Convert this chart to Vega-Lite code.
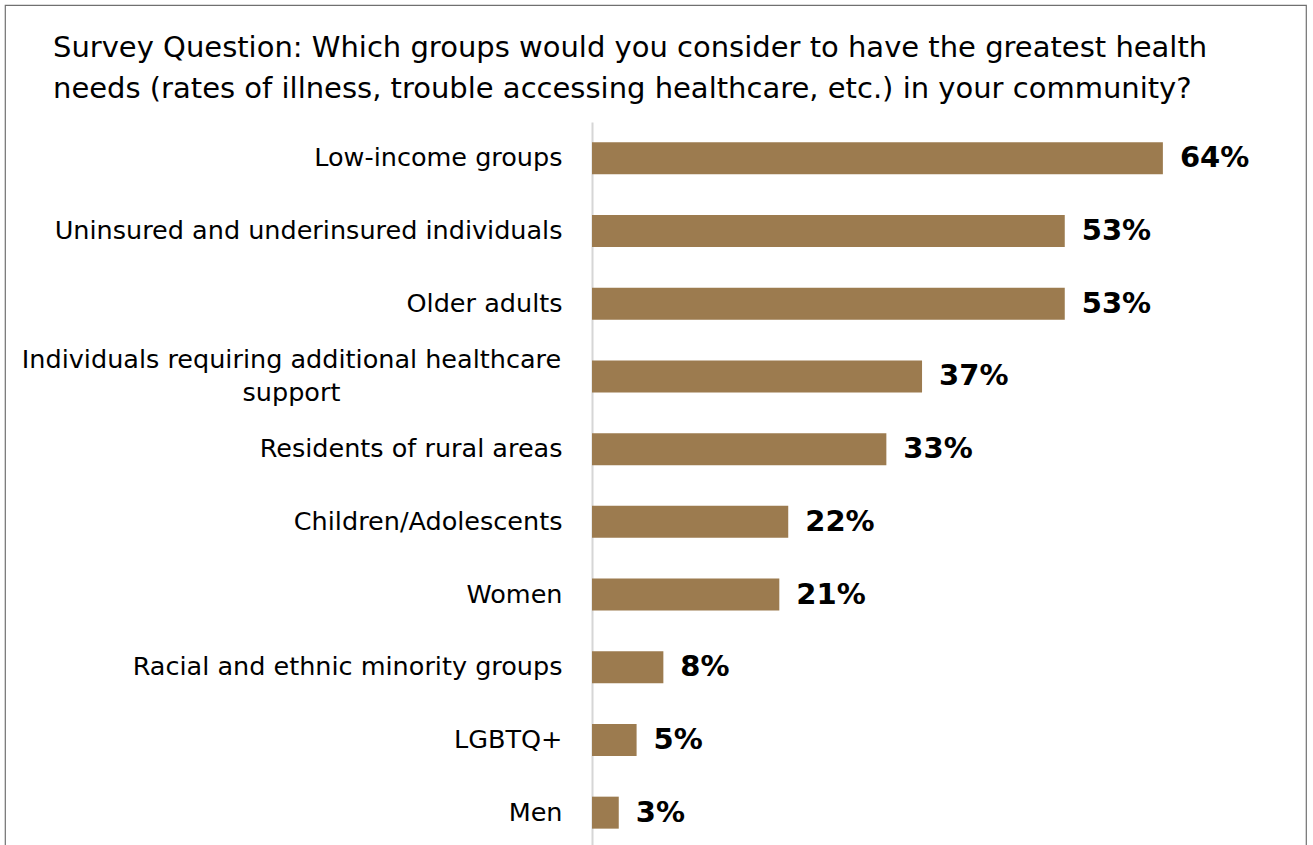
{
  "$schema": "https://vega.github.io/schema/vega-lite/v6.json",
  "width": 1301,
  "height": 840,
  "autosize": {"type": "none"},
  "padding": {"left": 5, "top": 5, "right": 7, "bottom": 0},
  "background": "white",
  "config": {
    "view": {"stroke": "#707070", "strokeWidth": 1.2, "strokeDash": [2141, 1301, 840, 1]}
  },
  "title": {
    "text": ["Survey Question: Which groups would you consider to have the greatest health", "needs (rates of illness, trouble accessing healthcare, etc.) in your community?"],
    "anchor": "start",
    "frame": "group",
    "font": "DejaVu Sans",
    "fontSize": 29,
    "fontWeight": "normal",
    "color": "#000000",
    "lineHeight": 41,
    "baseline": "top",
    "offset": 0,
    "dx": 48,
    "dy": 99
  },
  "data": {
    "values": [
      {"group": "Low-income groups", "pct": 0.64},
      {"group": "Uninsured and underinsured individuals", "pct": 0.53},
      {"group": "Older adults", "pct": 0.53},
      {"group": "Individuals requiring additional healthcare support", "pct": 0.37},
      {"group": "Residents of rural areas", "pct": 0.33},
      {"group": "Children/Adolescents", "pct": 0.22},
      {"group": "Women", "pct": 0.21},
      {"group": "Racial and ethnic minority groups", "pct": 0.08},
      {"group": "LGBTQ+", "pct": 0.05},
      {"group": "Men", "pct": 0.03}
    ]
  },
  "layer": [
    {
      "mark": {"type": "bar", "color": "#9c7b4f"},
      "encoding": {
        "y": {
          "field": "group",
          "type": "nominal",
          "sort": null,
          "scale": {"range": [117, 844], "paddingInner": 0.56, "paddingOuter": 0.28},
          "axis": {
            "title": null,
            "orient": "left",
            "offset": -587,
            "domainColor": "#d6d6d6",
            "domainWidth": 2,
            "ticks": false,
            "tickSize": 0,
            "labelFont": "DejaVu Sans",
            "labelFontSize": 25.5,
            "labelColor": "#000000",
            "labelLimit": 0,
            "labelOverlap": false,
            "labelLineHeight": 33,
            "labelAlign": {"condition": {"test": "datum.value === 'Individuals requiring additional healthcare support'", "value": "center"}, "value": "right"},
            "labelPadding": {"condition": {"test": "datum.value === 'Individuals requiring additional healthcare support'", "value": 301}, "value": 30},
            "labelOffset": {"condition": {"test": "datum.value === 'Individuals requiring additional healthcare support'", "value": -16.5}, "value": 0},
            "labelExpr": "datum.value === 'Individuals requiring additional healthcare support' ? ['Individuals requiring additional healthcare', 'support'] : datum.label"
          }
        },
        "x": {
          "field": "pct",
          "type": "quantitative",
          "scale": {"domain": [0, 1], "range": [587, 1479]},
          "axis": null
        }
      }
    },
    {
      "mark": {"type": "text", "align": "left", "baseline": "middle", "dx": 17, "font": "DejaVu Sans", "fontWeight": "bold", "fontSize": 29, "color": "#000000"},
      "encoding": {
        "y": {"field": "group", "type": "nominal", "sort": null},
        "x": {"field": "pct", "type": "quantitative"},
        "text": {"field": "pct", "type": "quantitative", "format": ".0%"}
      }
    }
  ]
}
